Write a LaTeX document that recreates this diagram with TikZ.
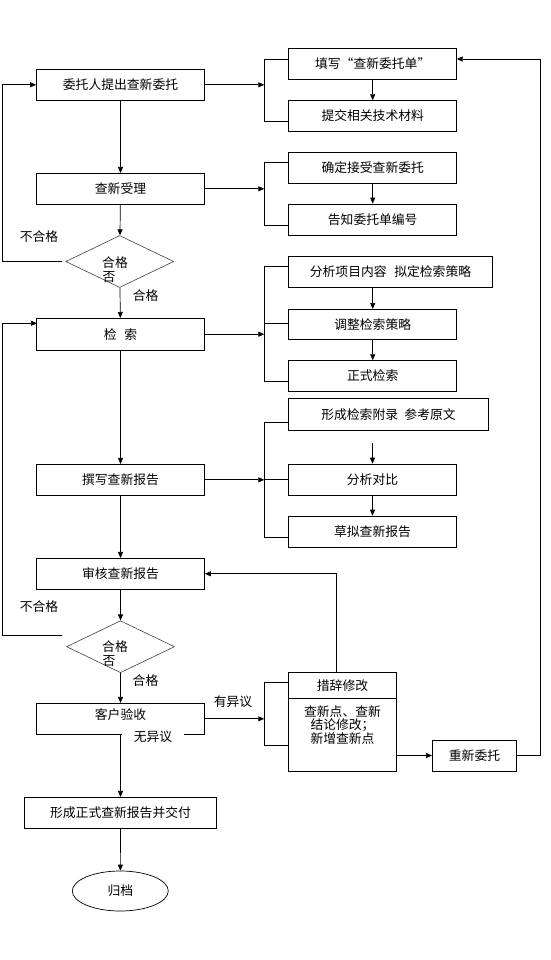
\documentclass[tikz,border=0pt]{standalone}
\usepackage{fontspec}
\setmainfont{Noto Sans CJK SC}
\usetikzlibrary{shapes.geometric,arrows.meta,calc}
\newcommand{\fsz}{\fontsize{12.8}{12}\selectfont}
\tikzset{
  box/.style={draw, rectangle, minimum height=31pt, inner sep=0pt, font=\fsz},
  dia/.style={draw=black!75, shape=diamond, minimum width=108pt, minimum height=52pt, inner sep=0pt, line width=0.6pt},
  lbl/.style={font=\fsz, inner sep=0pt},
  wlbl/.style={font=\fsz, inner sep=0pt, fill=white},
  arr/.style={-{Triangle[length=6pt,width=5pt]}}
}
\begin{document}
\begin{tikzpicture}[x=1pt,y=-1pt,line width=0.7pt]
\useasboundingbox (0,0) rectangle (550,960);
% main column
\node[box, minimum width=168pt] (b1) at (120.5,84.8) {委托人提出查新委托};
\node[box, minimum width=168pt] (b2) at (120.5,188.8) {查新受理};
\node[dia] (d1) at (119.7,261.5) {};
\node[box, minimum width=168pt, minimum height=31.7pt] (b3) at (120.5,334.2) {检\hspace{0.6em}索};
\node[box, minimum width=168pt] (b4) at (120.5,479.8) {撰写查新报告};
\node[box, minimum width=168pt] (b5) at (120.5,573.8) {审核查新报告};
\node[dia] (d2) at (120.5,646.7) {};
\node[box, minimum width=168pt] (b6) at (120.5,718.8) {};
\node[lbl] (b6t) at (120.5,715) {客户验收};
\node[box, minimum width=192.4pt] (b7) at (120.5,812.8) {形成正式查新报告并交付};
\node[draw, ellipse, minimum width=96pt, minimum height=40pt, inner sep=0pt, font=\fsz] (b8) at (120.3,891) {归档};
% diamond texts
\node[lbl] (d1a) at (115,262.5) {合格};
\node[lbl] (d1b) at (109,277) {否};
\node[lbl] (d2a) at (115,646.7) {合格};
\node[lbl] (d2b) at (109,661) {否};
% right boxes
\node[box, minimum width=168pt] (f1) at (372.7,63.8) {填写“查新委托单”};
\node[box, minimum width=168pt, minimum height=30.3pt] (f2) at (372.7,115.8) {提交相关技术材料};
\node[box, minimum width=168pt] (g1) at (372.7,167.8) {确定接受查新委托};
\node[box, minimum width=168pt] (g2) at (372.7,219.5) {告知委托单编号};
\node[box, minimum width=203.6pt, minimum height=30.6pt] (h1) at (390.5,272) {分析项目内容\hspace{0.6em}拟定检索策略};
\node[box, minimum width=168pt, minimum height=29.7pt] (h2) at (372.7,324.2) {调整检索策略};
\node[box, minimum width=168pt, minimum height=30.3pt] (h3) at (372.7,375.8) {正式检索};
\node[box, minimum width=200.4pt, minimum height=32.4pt] (s1) at (388.5,414.5) {形成检索附录\hspace{0.5em}参考原文};
\node[box, minimum width=168.4pt, minimum height=31.3pt] (s2) at (372.5,479.7) {分析对比};
\node[box, minimum width=168.4pt, minimum height=31.3pt] (s3) at (372.5,531.7) {草拟查新报告};
\node[draw, rectangle, minimum width=108.4pt, minimum height=98.3pt, inner sep=0pt] (m) at (342.5,721.85) {};
\node[lbl] (mh) at (342.5,685.5) {措辞修改};
\node[lbl, align=center, font=\fontsize{12.8}{11.6}\selectfont] (mb) at (342.5,725) {查新点、查新\\结论修改；\\新增查新点};
\node[box, minimum width=84.4pt] (rw) at (474.5,755.5) {重新委托};
\draw (m.west |- 0,698.3) -- (m.east |- 0,698.3);
% main vertical arrows
\draw[arr] (b1) -- (b2);
\draw[arr] (b2) -- (d1);
\draw[arr] (d1) -- (b3);
\draw[arr] (b3) -- (b4);
\draw[arr] (b4) -- (b5);
\draw[arr] (b5) -- (d2);
\draw[arr] (d2) -- (b6);
\draw[arr] (b6) -- (b7);
\draw[arr] (b7) -- (b8);
% loops
\coordinate (l1) at (62,261.7);
\draw[arr] (l1) -- (2,261.7) |- (b1.west);
\coordinate (l2) at (62,635);
\coordinate (b3in) at (37,323.3);
\draw[arr] (l2) -- (2,635) |- (b3in);
% labels
\node[lbl] (n1) at (39,236.7) {不合格};
\node[lbl] (n2) at (39,606.7) {不合格};
\node[lbl] (p1) at (145.7,296) {合格};
\node[lbl] (p2) at (145.5,681) {合格};
% brackets
\draw (f1.west |- 0,59) -- (264.3,59) -- (264.3,121) -- (f2.west |- 0,121);
\coordinate (k1) at (264.3,84.8);
\draw[arr] (b1.east) -- (k1);
\draw (g1.west |- 0,162.3) -- (264.3,162.3) -- (264.3,225) -- (g2.west |- 0,225);
\coordinate (k2) at (264.3,188.8);
\draw[arr] (b2.east) -- (k2);
\draw (h1.west |- 0,266) -- (264.3,266) -- (264.3,381) -- (h3.west |- 0,381);
\draw (264.3,323.3) -- (h2.west |- 0,323.3);
\coordinate (k3) at (264.3,334.2);
\draw[arr] (b3.east) -- (k3);
\draw (s1.west |- 0,422.3) -- (264.3,422.3) -- (264.3,537) -- (s3.west |- 0,537);
\draw (264.3,479.3) -- (s2.west |- 0,479.3);
\coordinate (k4) at (264.3,479.8);
\draw[arr] (b4.east) -- (k4);
\draw (m.west |- 0,682.7) -- (264.3,682.7) -- (264.3,745) -- (m.west |- 0,745);
\coordinate (k5) at (264.3,718.8);
\draw[arr] (b6.east) -- (k5);
% right vertical arrows
\draw[arr] (f1) -- (f2);
\draw[arr] (g1) -- (g2);
\draw[arr] (h1.south -| h2.north) -- (h2.north);
\draw[arr] (h2) -- (h3);
\coordinate (fa) at (372.5,443.3);
\draw[arr] (fa) -- (s2.north);
\draw[arr] (s2) -- (s3);
% feedback arrows
\coordinate (cu) at (336.7,672.7);
\draw[arr] (cu) |- (b5.east);
\draw[arr] (m.east |- rw.west) -- (rw.west);
\coordinate (f1in) at (456.7,59);
\draw[arr] (rw.east) -- (540,755.5) |- (f1in);
% labels with white background
\node[wlbl, minimum width=57pt, minimum height=26pt] (y1) at (233,702) {有异议};
\node[wlbl, minimum width=62pt, minimum height=16pt] (y2) at (153,737) {无异议};
\end{tikzpicture}
\end{document}
